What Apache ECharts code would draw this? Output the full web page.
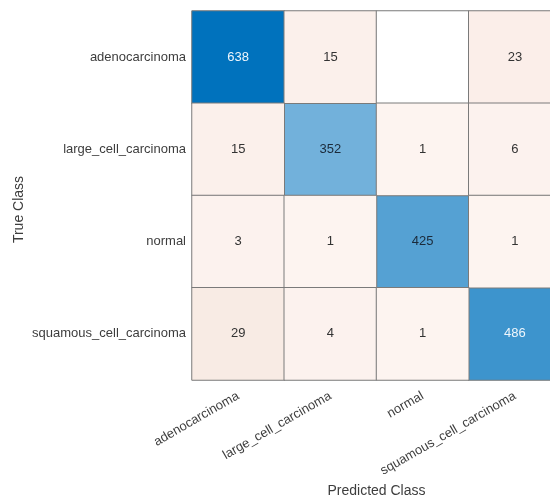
<!DOCTYPE html>
<html>
<head>
<meta charset="utf-8">
<script src="https://cdn.jsdelivr.net/npm/echarts@6/dist/echarts.min.js"></script>
<style>
  html, body { margin: 0; padding: 0; background: #ffffff; }
  #chart { width: 550px; height: 495px; }
</style>
</head>
<body>
<div id="chart"></div>
<script>
// Class names (rows = true class, columns = predicted class)
const classes = ['adenocarcinoma', 'large_cell_carcinoma', 'normal', 'squamous_cell_carcinoma'];

// Confusion counts, one array per true class
const rowAdeno    = [638, 15, 0, 23];
const rowLarge    = [15, 352, 1, 6];
const rowNormal   = [3, 1, 425, 1];
const rowSquamous = [29, 4, 1, 486];
const counts = [rowAdeno, rowLarge, rowNormal, rowSquamous];

const FONT = '"Liberation Sans", Arial, Helvetica, sans-serif';

// Split cells into correct (diagonal) and misclassified (off-diagonal) sets
const diagData = [];
const offData = [];
counts.forEach((row, r) => {
  row.forEach((v, c) => {
    if (r === c) {
      diagData.push({
        value: [c, r, v],
        label: { color: v > 450 ? '#eef6fc' : '#1b2a3a' }
      });
    } else {
      offData.push([c, r, v]);
    }
  });
});

const maxCount = Math.max(...counts.flat());

const chart = echarts.init(document.getElementById('chart'), null, { renderer: 'canvas' });

const cellLabel = {
  show: true,
  fontFamily: FONT,
  fontSize: 13,
  formatter: p => (p.value[2] === 0 ? '' : String(p.value[2]))
};

chart.setOption({
  backgroundColor: '#ffffff',
  animation: false,
  grid: { left: 192, top: 11, width: 369, height: 369, outerBoundsMode: 'none', containLabel: false },
  xAxis: {
    type: 'category',
    data: classes,
    position: 'bottom',
    axisLine: { show: false },
    axisTick: { show: false },
    splitLine: { show: false },
    axisLabel: {
      rotate: 30,
      margin: 15,
      fontFamily: FONT,
      fontSize: 13,
      color: '#3d3d3d',
      interval: 0
    },
    name: 'Predicted Class',
    nameLocation: 'middle',
    nameGap: 102,
    nameTextStyle: { fontFamily: FONT, fontSize: 14, color: '#3d3d3d' }
  },
  yAxis: {
    type: 'category',
    data: classes,
    inverse: true,
    axisLine: { show: false },
    axisTick: { show: false },
    splitLine: { show: false },
    axisLabel: {
      margin: 6,
      fontFamily: FONT,
      fontSize: 13,
      color: '#3d3d3d',
      interval: 0
    },
    name: 'True Class',
    nameLocation: 'middle',
    nameGap: 166,
    nameMoveOverlap: false,
    nameRotate: 90,
    nameTextStyle: { fontFamily: FONT, fontSize: 14, color: '#3d3d3d', padding: [0, 28, 0, 0] }
  },
  visualMap: [
    {
      type: 'continuous',
      show: false,
      seriesIndex: 0,
      dimension: 2,
      min: 0,
      max: maxCount,
      inRange: { color: ['#ffffff', '#0072bd'] }
    },
    {
      type: 'piecewise',
      show: false,
      seriesIndex: 1,
      dimension: 2,
      pieces: [
        { value: 0, color: '#ffffff' },
        { gte: 1, lte: 2, color: '#fdf4f0' },
        { gte: 3, lte: 9, color: '#fcf2ee' },
        { gte: 10, lte: 19, color: '#fbf0eb' },
        { gte: 20, lte: 26, color: '#fbeee9' },
        { gte: 27, color: '#f8ebe4' }
      ]
    }
  ],
  series: [
    {
      name: 'correct',
      type: 'heatmap',
      data: diagData,
      label: cellLabel,
      itemStyle: { borderColor: '#7a7a7a', borderWidth: 1 },
      emphasis: { disabled: true }
    },
    {
      name: 'misclassified',
      type: 'heatmap',
      data: offData,
      label: Object.assign({}, cellLabel, { color: '#333333' }),
      itemStyle: { borderColor: '#7a7a7a', borderWidth: 1 },
      emphasis: { disabled: true }
    }
  ]
});
</script>
</body>
</html>
